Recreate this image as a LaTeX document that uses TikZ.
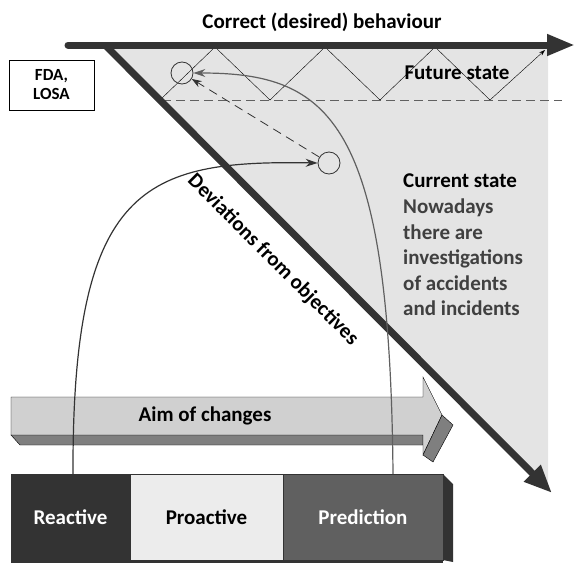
\documentclass[tikz,border=0pt]{standalone}
\usepackage{fontspec}
\setmainfont{Carlito}
\usetikzlibrary{arrows.meta,calc,positioning}
\definecolor{darkline}{HTML}{333333}
\definecolor{regiongray}{HTML}{E4E4E4}
\definecolor{aimlight}{HTML}{D0D0D0}
\definecolor{aimdark}{HTML}{7F7F7F}
\definecolor{midgray}{HTML}{606060}
\definecolor{textgray}{HTML}{404040}
\definecolor{paleface}{HTML}{ECECEC}
\begin{document}
\begin{tikzpicture}[x=1pt, y=-1pt, >=Stealth, font=\bfseries\fontsize{21}{25}\selectfont,
    stagebox/.style={draw=darkline, minimum width=#1, minimum height=86pt, inner sep=0pt, outer sep=0pt},
    state/.style={circle, draw=darkline, thick, minimum size=22pt, inner sep=0pt}]
        \useasboundingbox (0,0) rectangle (575,562);

        % Shaded region right of the deviation line
        \fill[regiongray] (107,47) -- (548,47) -- (548,488) -- cycle;

        % Zigzag and border of the future state
        \draw[thin, -{Stealth[length=6pt,width=4pt]}] (160,100) -- (215,47) -- (270,100) -- (325,47) -- (380,100) -- (435,47) -- (490,100) -- (545,50);
        \draw[midgray, semithick, dash pattern=on 9pt off 5pt] (162,100) -- (562,100);

        % Correct behaviour and deviation lines
        \draw[line width=7pt, darkline, line cap=round, -{Triangle[length=28pt,width=20pt]}] (68,45) -- (575,45);
        \draw[line width=7pt, darkline, -{Triangle[length=28pt,width=22pt]}] (105,45) -- (552,493);

        % States
        \node[state] (future) at (182,73) {};
        \node[state] (current) at (329,163) {};
        \draw[darkline, thick, dash pattern=on 9pt off 6pt, -{Stealth[length=10pt,width=7pt]}] (current) -- (future);

        % Aim of changes (3D arrow)
        \filldraw[fill=aimdark, draw=black, thin] (11,435) -- (20,445) -- (423,445) -- (423,435) -- cycle;
        \filldraw[fill=aimlight, draw=black, thin] (11,397) -- (423,397) -- (423,377) -- (442,415) -- (423,455) -- (423,435) -- (11,435) -- cycle;
        \filldraw[fill=aimdark, draw=black, thin] (442,415) -- (453,425) -- (433,462) -- (423,455) -- cycle;
        \node (aim) at (205,416) {Aim of changes};

        % Stages
        \node[stagebox=119pt, fill=darkline, text=white] (reactive) at (70.5,517) {Reactive};
        \node[stagebox=153pt, fill=paleface, right=0pt of reactive] (proactive) {Proactive};
        \node[stagebox=160pt, fill=midgray, text=white, right=0pt of proactive] (prediction) {Prediction};
        \fill[darkline] (prediction.north east) -- ++(10,10) -- (453,562) -- (prediction.south east) -- cycle;
        \fill[darkline] (reactive.south west) rectangle ($(prediction.south east)+(0,3)$);

        % Feedback curves
        \draw[darkline, line width=1.2pt, -{Stealth[length=12pt,width=8pt]}] ($(reactive.north)+(2.5,0)$) .. controls (72,185) and (145,160) .. (current.west);
        \draw[midgray, line width=1.2pt, -{Stealth[length=12pt,width=8pt]}] ($(prediction.north)+(30,0)$) .. controls (390,120) and (330,73) .. (future.east);

        % Labels
        \node (correct) at (322,22) {Correct (desired) behaviour};
        \node[draw, minimum width=85pt, minimum height=50pt, align=center, font=\bfseries\fontsize{17}{19}\selectfont] (fdalosa) at (51.5,85) {FDA,\\LOSA};
        \node[anchor=west] (futurestate) at (401,73) {Future state};
        \node[anchor=north west, align=left, inner sep=0pt, text=textgray, font=\bfseries\fontsize{21}{25.6}\selectfont] (currentstate) at (403,174) {\textcolor{black}{Current state}\\Nowadays\\there are\\investigations\\of accidents\\and incidents};
        \node[rotate=-45] (deviations) at (273,260) {Deviations from objectives};
\end{tikzpicture}
\end{document}
